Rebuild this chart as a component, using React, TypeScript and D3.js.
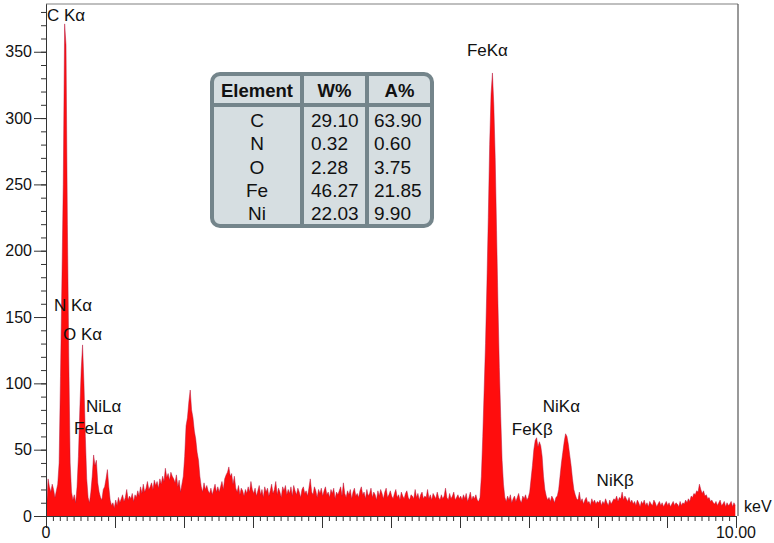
import React, { useRef, useEffect } from 'react';
import * as d3 from 'd3';

const W = 774;
const H = 543;

// EDS counts, one value per 0.02 keV channel (0.00 - 9.98 keV)
const channelWidth = 0.02;
const counts = [
  8, 28, 22, 18, 24, 20, 14, 19, 24, 40, 105, 175, 250, 371, 355, 220, 120, 40, 18, 12, 16, 10, 22, 45, 80,
  110, 129, 100, 60, 28, 14, 10, 18, 30, 46, 38, 42, 25, 18, 14, 12, 20, 22, 28, 35, 22, 12, 8, 10, 6,
  12, 8, 14, 10, 13, 16, 11, 14, 20, 12, 15, 13, 17, 11, 16, 14, 19, 15, 22, 17, 24, 18, 21, 26, 20,
  22, 25, 20, 27, 23, 26, 21, 28, 24, 30, 26, 36, 29, 32, 27, 33, 30, 28, 25, 31, 22, 27, 18, 24, 30,
  45, 68, 74, 86, 95, 80, 74, 64, 58, 48, 42, 30, 22, 18, 25, 20, 23, 19, 17, 21, 16, 20, 24, 18, 22,
  18, 22, 26, 20, 28, 31, 33, 37, 30, 32, 24, 30, 21, 18, 23, 16, 21, 19, 15, 20, 17, 22, 18, 26, 20,
  17, 21, 15, 19, 23, 16, 20, 14, 22, 18, 21, 15, 19, 24, 17, 20, 26, 16, 21, 18, 14, 22, 19, 23, 16,
  20, 17, 22, 15, 23, 19, 16, 21, 18, 14, 20, 22, 17, 19, 15, 21, 28, 18, 16, 22, 19, 14, 20, 17, 21,
  15, 19, 22, 16, 18, 14, 20, 17, 21, 13, 18, 16, 19, 22, 15, 25, 17, 14, 19, 16, 20, 13, 18, 21, 15,
  17, 14, 19, 22, 16, 18, 13, 20, 15, 17, 21, 14, 18, 16, 12, 19, 15, 20, 17, 13, 18, 21, 14, 16, 19,
  15, 13, 17, 20, 14, 16, 12, 18, 15, 13, 17, 19, 14, 12, 16, 15, 13, 20, 14, 17, 12, 16, 18, 13, 15,
  14, 20, 13, 16, 12, 17, 15, 13, 18, 14, 12, 16, 13, 15, 21, 14, 12, 17, 13, 15, 18, 12, 14, 16, 13,
  15, 12, 16, 13, 17, 11, 14, 18, 12, 15, 13, 16, 12, 11, 14, 30, 60, 95, 130, 175, 225, 280, 318, 334, 310,
  270, 215, 160, 112, 75, 42, 24, 14, 11, 15, 12, 16, 10, 13, 15, 11, 14, 17, 12, 10, 15, 13, 16, 12, 14,
  18, 28, 38, 50, 57, 59, 52, 56, 53, 45, 30, 20, 15, 12, 14, 11, 15, 13, 10, 14, 15, 20, 30, 40, 48,
  56, 62, 60, 54, 46, 38, 28, 20, 16, 13, 12, 18, 11, 13, 9, 12, 14, 10, 11, 8, 13, 10, 12, 9, 11,
  10, 12, 8, 11, 9, 13, 10, 8, 12, 9, 11, 13, 12, 15, 11, 14, 13, 18, 12, 15, 13, 11, 14, 10, 12,
  9, 11, 8, 12, 10, 7, 11, 9, 12, 8, 10, 7, 11, 9, 8, 12, 10, 7, 9, 11, 8, 10, 7, 9, 11,
  8, 10, 7, 9, 11, 8, 10, 9, 7, 11, 8, 10, 9, 12, 10, 13, 11, 15, 14, 17, 16, 19, 18, 24, 20,
  17, 19, 15, 16, 13, 14, 11, 12, 10, 9, 11, 8, 10, 12, 8, 9, 11, 7, 10, 8, 9, 11, 7, 10, 8,
];

const yMajorTicks = [0, 50, 100, 150, 200, 250, 300, 350];
const xLabelValues = [0, 10];
const xLabels = ['0', '10.00'];

// peak annotations, anchored in data coordinates (keV, counts)
const peakNames = ['C Kα', 'N Kα', 'O Kα', 'NiLα', 'FeLα', 'FeKα', 'FeKβ', 'NiKα', 'NiKβ'];
const peakKeV = [0.014, 0.116, 0.246, 0.58, 0.406, 6.1, 6.75, 7.2, 7.98];
const peakCounts = [373, 154.6, 132.7, 78.4, 61.8, 346.9, 61.1, 78.4, 22.6];

// quantification table
const tableHeader = ['Element', 'W%', 'A%'];
const elements = ['C', 'N', 'O', 'Fe', 'Ni'];
const weightPct = ['29.10', '0.32', '2.28', '46.27', '22.03'];
const atomicPct = ['63.90', '0.60', '3.75', '21.85', '9.90'];

const FONT = '"Liberation Sans", Arial, sans-serif';

const EdsSpectrum = () => {
  const svgRef = useRef<SVGSVGElement>(null);

  useEffect(() => {
    const svg = d3.select(svgRef.current);
    svg.selectAll('*').remove();

    const x = d3.scaleLinear().domain([0, 10]).range([46, 736]);
    const y = d3.scaleLinear().domain([0, 386]).range([516, 4]);

    const points: [number, number][] = counts.map((c, i) => [(i + 0.5) * channelWidth, c]);

    // spectrum fill
    const area = d3.area<[number, number]>()
      .x(d => x(d[0]))
      .y0(y(0))
      .y1(d => y(d[1]));
    svg.append('path')
      .datum(points)
      .attr('fill', '#ff0d0d')
      .attr('d', area);

    const line = d3.line<[number, number]>()
      .x(d => x(d[0]))
      .y(d => y(d[1]));
    svg.append('path')
      .datum(points)
      .attr('fill', 'none')
      .attr('stroke', '#b3143c')
      .attr('stroke-width', 0.6)
      .attr('stroke-opacity', 0.8)
      .attr('d', line);

    // frame top / right
    svg.append('line')
      .attr('x1', x(0)).attr('x2', x(10) + 2)
      .attr('y1', y(386)).attr('y2', y(386))
      .attr('stroke', '#808080').attr('stroke-width', 1.2);
    svg.append('line')
      .attr('x1', x(10) + 2).attr('x2', x(10) + 2)
      .attr('y1', y(386)).attr('y2', y(0))
      .attr('stroke', '#555').attr('stroke-width', 1.2);

    // y axis: minor every 10, major every 50
    const yMinor = d3.range(0, 390, 10);
    svg.append('g')
      .attr('transform', `translate(${x(0)},0)`)
      .call(d3.axisLeft(y).tickValues(yMinor).tickSize(5).tickSizeOuter(0).tickFormat(() => ''))
      .call(g => g.selectAll('line, path').attr('stroke', '#333'));
    svg.append('g')
      .attr('transform', `translate(${x(0)},0)`)
      .call(d3.axisLeft(y).tickValues(yMajorTicks).tickSize(12).tickSizeOuter(0).tickPadding(2))
      .call(g => g.selectAll('line, path').attr('stroke', '#333'))
      .call(g => g.selectAll('text')
        .attr('font-family', FONT)
        .attr('font-size', 16)
        .attr('fill', '#111'));

    // x axis: minor every 0.1 keV, major every 1 keV
    const xMinor = d3.range(0, 101).map(i => i / 10);
    svg.append('g')
      .attr('transform', `translate(0,${y(0)})`)
      .call(d3.axisBottom(x).tickValues(xMinor).tickSize(5).tickSizeOuter(0).tickFormat(() => ''))
      .call(g => g.selectAll('line, path').attr('stroke', '#333'));
    svg.append('g')
      .attr('transform', `translate(0,${y(0)})`)
      .call(d3.axisBottom(x).tickValues(d3.range(0, 11)).tickSize(12).tickSizeOuter(0).tickFormat(() => ''))
      .call(g => g.selectAll('line, path').attr('stroke', '#333'));

    svg.selectAll('.xlabel')
      .data(xLabelValues)
      .enter()
      .append('text')
      .attr('class', 'xlabel')
      .attr('x', d => x(d))
      .attr('y', y(0) + 22)
      .attr('text-anchor', 'middle')
      .attr('font-family', FONT)
      .attr('font-size', 16)
      .attr('fill', '#111')
      .text((d, i) => xLabels[i]);

    svg.append('text')
      .attr('x', x(10) + 8)
      .attr('y', y(0) - 4)
      .attr('font-family', FONT)
      .attr('font-size', 16)
      .attr('fill', '#111')
      .text('keV');

    // peak labels
    svg.selectAll('.peak')
      .data(peakNames)
      .enter()
      .append('text')
      .attr('class', 'peak')
      .attr('x', (d, i) => x(peakKeV[i]))
      .attr('y', (d, i) => y(peakCounts[i]))
      .attr('font-family', FONT)
      .attr('font-size', 17)
      .attr('fill', '#111')
      .text(d => d);

    // table
    const tb = { left: 212, top: 74, right: 432, bottom: 226, headerBottom: 105, col1: 302, col2: 367 };
    const border = '#74858b';
    const t = svg.append('g');
    t.append('rect')
      .attr('x', tb.left).attr('y', tb.top)
      .attr('width', tb.right - tb.left).attr('height', tb.bottom - tb.top)
      .attr('rx', 8)
      .attr('fill', '#d6dee1')
      .attr('stroke', border)
      .attr('stroke-width', 4);
    t.append('line')
      .attr('x1', tb.left).attr('x2', tb.right)
      .attr('y1', tb.headerBottom).attr('y2', tb.headerBottom)
      .attr('stroke', border).attr('stroke-width', 4);
    [tb.col1, tb.col2].forEach(cx => {
      t.append('line')
        .attr('x1', cx).attr('x2', cx)
        .attr('y1', tb.top).attr('y2', tb.bottom)
        .attr('stroke', border).attr('stroke-width', 4);
    });

    const headerX = [(tb.left + tb.col1) / 2, (tb.col1 + tb.col2) / 2, (tb.col2 + tb.right) / 2];
    t.selectAll('.hdr')
      .data(tableHeader)
      .enter()
      .append('text')
      .attr('class', 'hdr')
      .attr('x', (d, i) => headerX[i])
      .attr('y', 97)
      .attr('text-anchor', 'middle')
      .attr('font-family', FONT)
      .attr('font-weight', 'bold')
      .attr('font-size', 18.5)
      .attr('fill', '#111')
      .text(d => d);

    const rowY = (i: number) => 127 + i * 23.25;
    elements.forEach((el, i) => {
      t.append('text')
        .attr('x', headerX[0]).attr('y', rowY(i))
        .attr('text-anchor', 'middle')
        .attr('font-family', FONT).attr('font-size', 19).attr('fill', '#111')
        .text(el);
      t.append('text')
        .attr('x', tb.col1 + 9).attr('y', rowY(i))
        .attr('font-family', FONT).attr('font-size', 19).attr('fill', '#111')
        .text(weightPct[i]);
      t.append('text')
        .attr('x', tb.col2 + 7).attr('y', rowY(i))
        .attr('font-family', FONT).attr('font-size', 19).attr('fill', '#111')
        .text(atomicPct[i]);
    });
  }, []);

  return <svg ref={svgRef} width={W} height={H} style={{ display: 'block', background: '#fff' }} />;
};

export default function App() {
  return (
    <div style={{ position: 'fixed', left: 0, top: 0, width: W, height: H, background: '#fff' }}>
      <EdsSpectrum />
    </div>
  );
}
